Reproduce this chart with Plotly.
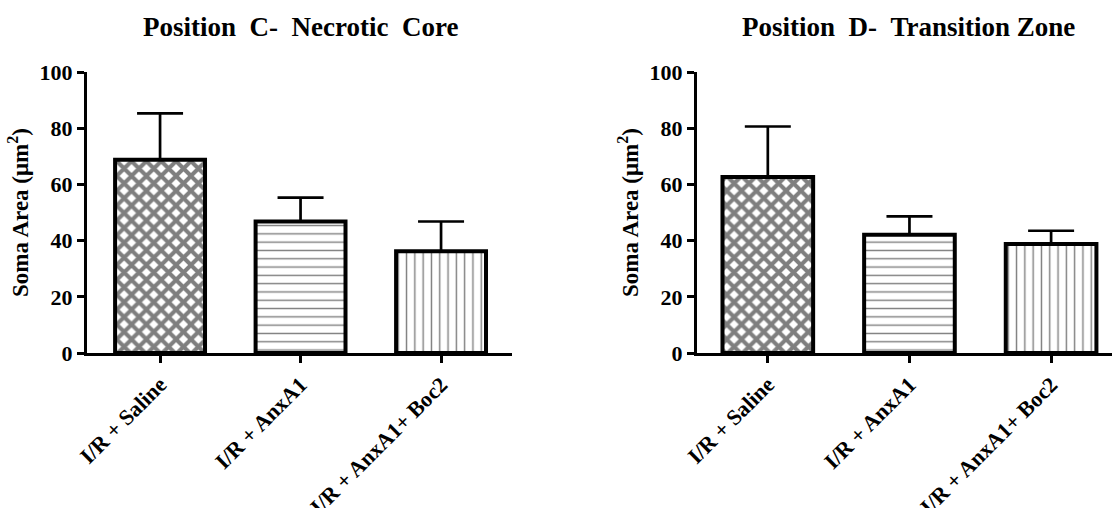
import plotly.graph_objects as go

categories = ["I/R + Saline", "I/R + AnxA1", "I/R + AnxA1+ Boc2"]
necrotic_mean = [68.8, 46.8, 36.2]
necrotic_sem = [16.5, 8.5, 10.6]
transition_mean = [62.6, 42.1, 38.8]
transition_sem = [18.0, 6.5, 4.7]
panel_titles = ["Position\u00a0\u00a0C-\u00a0\u00a0Necrotic\u00a0\u00a0Core",
                "Position\u00a0\u00a0D-\u00a0\u00a0Transition Zone"]
y_ticks = [0, 20, 40, 60, 80, 100]

FONT = "Liberation Serif"
patterns = [dict(shape="x", size=10.5, solidity=0.62, fgcolor="black", bgcolor="white"),
            dict(shape="-", size=8.3, solidity=0.17, fgcolor="black", bgcolor="white"),
            dict(shape="|", size=8.3, solidity=0.17, fgcolor="black", bgcolor="white")]

fig = go.Figure()

def add_panel(means, sems, xa, ya):
    for i, cat in enumerate(categories):
        fig.add_trace(go.Bar(
            x=[i], y=[means[i]], width=0.64,
            marker=dict(color="white", pattern=patterns[i],
                        line=dict(color="black", width=4)),
            error_y=dict(type="data", array=[sems[i]], arrayminus=[0],
                         symmetric=False, thickness=2.7, width=23, color="black"),
            xaxis=xa, yaxis=ya, showlegend=False, hoverinfo="skip",
        ))

add_panel(necrotic_mean, necrotic_sem, "x", "y")
add_panel(transition_mean, transition_sem, "x2", "y2")

W, H = 1112, 508
ydom = [1 - 353 / H, 1 - 72 / H]

xcommon = dict(
    tickmode="array", tickvals=[0, 1, 2], ticktext=categories, tickangle=-45,
    showline=True, linecolor="black", linewidth=3, ticks="outside",
    ticklen=7, tickwidth=3, tickcolor="black", showgrid=False, zeroline=False,
    automargin=False,
    tickfont=dict(family=FONT, size=22, color="black", weight="bold"),
)
ycommon = dict(
    range=[0, 100], tickvals=y_ticks, showline=True, linecolor="black", linewidth=3,
    ticks="outside", ticklen=7, tickwidth=3, tickcolor="black", showgrid=False,
    zeroline=False, domain=ydom, automargin=False,
    tickfont=dict(family=FONT, size=22, color="black", weight="bold"),
    title=dict(text="Soma Area (μm<sup>2</sup>)", standoff=5,
               font=dict(family=FONT, size=23, color="black", weight="bold")),
)

fig.update_layout(
    width=W, height=H, margin=dict(l=0, r=0, t=0, b=0, autoexpand=False),
    paper_bgcolor="white", plot_bgcolor="white",
    xaxis=dict(domain=[87 / W, 512 / W], range=[-0.52, 2.505], anchor="y", **xcommon),
    yaxis=dict(anchor="x", **ycommon),
    xaxis2=dict(domain=[697 / W, 1.0], range=[-0.5, 2.43], anchor="y2", **xcommon),
    yaxis2=dict(anchor="x2", **ycommon),
    annotations=[
        dict(text=panel_titles[0], x=300 / W, y=1 - 27 / H, xref="paper", yref="paper",
             showarrow=False, xanchor="center", yanchor="middle",
             font=dict(family=FONT, size=27, color="black", weight="bold")),
        dict(text=panel_titles[1], x=908 / W, y=1 - 27 / H, xref="paper", yref="paper",
             showarrow=False, xanchor="center", yanchor="middle",
             font=dict(family=FONT, size=27, color="black", weight="bold")),
    ],
)

fig.write_html("out.html", config={"displayModeBar": False},
               post_script="document.body.style.margin='0';document.body.style.overflow='hidden';")
